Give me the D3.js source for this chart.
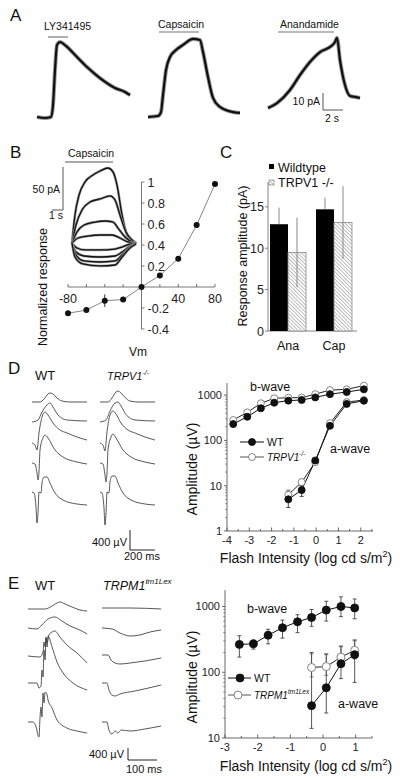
<!DOCTYPE html>
<html><head><meta charset="utf-8">
<script src="https://cdn.jsdelivr.net/npm/d3@7"></script>
<style>body{margin:0;background:#fff}svg{display:block;font-family:"Liberation Sans",Arial,sans-serif}</style>
</head><body><svg id="fig" width="400" height="779"></svg>
<script>
// ---------------- DATA ----------------
// Panel A: agonist-evoked currents, [time (s), current (pA)]
const aLabels = ["LY341495", "Capsaicin", "Anandamide"];
const aTraceLY = [[0,0],[0.8,-0.6],[1.4,0],[1.6,7],[1.8,27.6],[2.0,42.4],[2.3,44.1],[2.9,41.8],[3.8,36.5],[5.0,29.4],[6.3,22.9],[7.8,17.1],[8.8,14.7],[9.3,12.9]];
const aTraceCap = [[0,0],[1.0,0.6],[1.3,2.9],[1.5,12.9],[1.8,27.6],[2.2,35.3],[2.8,39.4],[3.5,42.4],[4.5,45.9],[5.2,45.3],[5.5,38.2],[6.0,23.5],[6.5,11.2],[7.2,5.9],[8.5,2.9],[9.2,2.4]];
const aTraceAna = [[0,5.3],[0.9,8.2],[2.2,15.9],[3.2,24.7],[4.2,32.4],[5.2,38.2],[6.2,41.2],[6.7,44.1],[6.9,46.5],[7.2,33.5],[7.7,18.8],[8.2,12.4],[8.7,11.8],[9.2,11.2]];

// Panel B: capsaicin currents at different holding potentials, [time (s), current (pA)]
const bTraces = [
  [[0,0],[0.27,32.6],[0.64,55.8],[1.18,70.9],[1.91,79.1],[2.55,83.7],[3.27,87.2],[3.73,82.6],[4.09,67.4],[4.55,32.6],[5.0,9.3],[5.45,3.5],[5.82,0]],
  [[0,0],[0.36,20.9],[0.91,38.4],[1.64,47.7],[2.55,51.2],[3.45,54.7],[3.91,50],[4.36,32.6],[4.91,12.8],[5.45,3.5],[5.82,0]],
  [[0,0],[0.45,12.8],[1.09,20.9],[2.09,24.4],[3.0,25.6],[3.73,24.4],[4.18,17.4],[4.82,7.0],[5.45,1.2],[5.82,0]],
  [[0,0],[0.55,5.8],[1.45,8.1],[2.55,9.3],[3.64,9.3],[4.36,5.8],[5.09,1.2],[5.82,0]],
  [[0,0],[0.45,-5.8],[1.18,-8.1],[2.55,-8.1],[3.91,-7.0],[4.55,-4.7],[5.27,-1.2],[5.82,0]],
  [[0,0],[0.36,-10.5],[1.09,-15.1],[2.55,-16.3],[3.91,-15.1],[4.55,-10.5],[5.27,-3.5],[5.82,0]],
  [[0,0],[0.36,-14],[1.09,-20.9],[2.55,-22.1],[3.91,-20.9],[4.55,-14],[5.27,-4.7],[5.82,0]],
  [[0,0],[0.27,-16.3],[1.0,-24.4],[2.55,-26.7],[3.91,-25.6],[4.55,-16.3],[5.27,-5.8],[5.82,-1.2]]
];
// Panel B: I-V relation
const ivVm = [-80,-60,-40,-20,0,20,40,60,80];
const ivResp = [-0.25,-0.22,-0.13,-0.12,0,0.11,0.27,0.59,0.98];
const ivErr = [0.02,0.01,0.06,0.01,0,0.01,0.01,0.02,0.01];
const ivYTicks = [-0.4,-0.2,0.2,0.4,0.6,0.8,1];
const ivXTicks = [-80,-60,-40,-20,0,20,40,60,80];
const ivXLabels = [-80,40,80];

// Panel C: response amplitudes (pA)
const cCats = ["Ana","Cap"];
const cGroups = ["Wildtype","TRPV1 -/-"];
const cWT = [12.9,14.7];
const cWTerr = [2.0,1.4];
const cKO = [9.5,13.1];
const cKOerr = [4.2,4.4];
const cYTicks = [0,5,10,15];

// Panel D: ERG traces, [time (ms), voltage (µV)]
const dTracesWT = [
  [[0,0],[64,0],[96,60],[128,160],[144,180],[168,160],[200,80],[240,20],[304,0],[440,0]],
  [[0,0],[48,40],[80,200],[120,340],[144,380],[168,300],[208,140],[280,40],[440,20]],
  [[0,0],[24,-40],[40,-140],[56,200],[80,520],[104,620],[128,560],[168,400],[224,260],[280,200],[360,120],[440,60]],
  [[0,0],[24,-20],[40,-200],[48,-340],[56,-180],[64,260],[88,500],[104,560],[128,500],[184,260],[248,120],[360,20],[440,-20]],
  [[0,0],[16,-20],[32,-300],[40,-620],[48,-420],[56,0],[72,-20],[80,180],[96,300],[120,300],[144,180],[184,-20],[248,-160],[360,-240],[440,-260]]
];
const dTracesKO = [
  [[0,0],[64,0],[96,80],[128,200],[144,220],[168,180],[200,90],[240,20],[304,0],[440,0]],
  [[0,0],[48,40],[80,220],[120,380],[144,400],[168,320],[208,150],[280,40],[440,20]],
  [[0,0],[24,-40],[40,-160],[56,220],[80,560],[104,640],[128,580],[168,400],[224,260],[280,200],[360,120],[440,60]],
  [[0,0],[24,-20],[40,-240],[48,-380],[56,-200],[64,260],[88,520],[104,580],[128,500],[184,260],[248,120],[360,20],[440,-20]],
  [[0,0],[16,-20],[32,-320],[40,-660],[48,-440],[56,0],[72,-20],[80,200],[96,320],[120,320],[144,180],[184,-20],[248,-160],[360,-240],[440,-260]]
];
// Panel D: intensity-response
const dXb = [-3.72,-3.09,-2.48,-1.88,-1.25,-0.65,-0.04,0.62,1.37,2.14];
const dWTb = [229,333,512,680,755,780,890,1050,1170,1340];
const dKOb = [282,415,660,850,875,880,1050,1290,1340,1620];
const dXa = [-1.25,-0.65,-0.04,0.62,1.37,2.14];
const dWTa = [5,8,36,210,640,750];
const dWTaErr = [[3.3,7.5],[5.8,10],[31,41],[195,228],[610,680],[710,800]];
const dKOa = [6.3,12,33,240,700,780];
const dKOaErr = [[5,8],[10,14],[29,38],[225,258],[670,740],[745,820]];
const dXTicks = [-4,-3,-2,-1,0,1,2];
const dYTicks = [1,10,100,1000];

// Panel E: ERG traces, [time (ms), voltage (µV)]
const eTracesWT = [
  [[0,0],[59,0],[83,100],[100,200],[110,233],[128,167],[152,67],[179,-33],[204,-67]],
  [[0,0],[31,-33],[48,100],[69,300],[93,367],[117,233],[145,67],[179,-67],[204,-200]],
  [[0,0],[41,-33],[52,133],[55,467],[59,300],[62,633],[66,433],[72,700],[83,800],[93,833],[110,633],[134,367],[169,100],[204,-233]],
  [[0,0],[31,0],[38,-167],[45,-100],[48,433],[52,200],[55,1100],[59,767],[62,1500],[66,1200],[69,1567],[83,1200],[100,700],[121,333],[155,0],[204,-233]],
  [[0,0],[17,0],[28,-167],[34,-433],[38,-500],[41,67],[45,500],[48,167],[52,967],[55,633],[59,1000],[66,900],[69,733],[83,467],[100,67],[134,-200],[169,-300],[204,-367]]
];
const eTracesKO = [
  [[0,0],[97,0],[204,-33]],
  [[0,0],[35,-33],[62,-167],[97,-267],[131,-233],[166,-133],[204,-67]],
  [[0,0],[21,0],[31,-167],[45,-267],[62,-300],[97,-267],[148,-200],[204,-100]],
  [[0,0],[17,0],[24,-233],[34,-400],[45,-433],[62,-367],[114,-267],[204,-67]],
  [[0,0],[17,0],[24,-267],[34,-400],[45,-300],[55,-367],[66,-267],[97,-300],[148,-233],[204,-133]]
];
// Panel E: intensity-response
const eXb = [-2.56,-2.13,-1.68,-1.24,-0.78,-0.35,0.10,0.55,0.97];
const eWTb = [265,270,365,475,585,680,880,1000,950];
const eWTbErr = [[170,360],[225,310],[270,450],[330,620],[400,750],[500,900],[600,1200],[700,1400],[650,1300]];
const eXa = [-0.35,0.10,0.55,0.97];
const eWTa = [31,58,135,185];
const eWTaErr = [[14,200],[24,190],[80,250],[70,310]];
const eKOa = [118,122,170,215];
const eKOaErr = [[85,190],[90,185],[120,245],[160,300]];
const eXTicks = [-3,-2,-1,0,1];
const eYTicks = [10,100,1000];

// ---------------- DRAWING ----------------
const svg = d3.select("#fig");
svg.append("rect").attr("width",400).attr("height",779).attr("fill","#fff");
const defs = svg.append("defs");
const pat = defs.append("pattern").attr("id","hatch").attr("patternUnits","userSpaceOnUse")
  .attr("width",2.6).attr("height",2.6).attr("patternTransform","rotate(-45)");
pat.append("rect").attr("width",2.6).attr("height",2.6).attr("fill","#fff");
pat.append("line").attr("x1",0).attr("y1",0).attr("x2",0).attr("y2",2.6).attr("stroke","#8a8a8a").attr("stroke-width",1.1);

function txt(x,y,s,size,o={}){
  const t = svg.append("text").attr("x",x).attr("y",y).attr("font-size",size)
    .attr("fill",o.fill||"#111").attr("text-anchor",o.anchor||"start").text(s);
  if(o.italic) t.attr("font-style","italic");
  if(o.rot) t.attr("transform",`rotate(${o.rot},${x},${y})`);
  return t;
}
function line(x1,y1,x2,y2,col,w){
  svg.append("line").attr("x1",x1).attr("y1",y1).attr("x2",x2).attr("y2",y2)
    .attr("stroke",col||"#222").attr("stroke-width",w||1);
}
function trace(data,xs,ys,col,w,under){
  const gen = d3.line().x(d=>xs(d[0])).y(d=>ys(d[1])).curve(d3.curveMonotoneX);
  if(under) svg.append("path").attr("d",gen(data)).attr("fill","none").attr("stroke",under[0]).attr("stroke-width",under[1]).attr("stroke-linejoin","round");
  svg.append("path").attr("d",gen(data)).attr("fill","none").attr("stroke",col).attr("stroke-width",w).attr("stroke-linejoin","round");
}

// Panel letters
[["A",10,21],["B",10,158],["C",220,158],["D",8,374],["E",8,589]].forEach(p=>txt(p[1],p[2],p[0],17));

// ---- Panel A ----
const aX0 = [37,148,268];
const aTraces = [aTraceLY,aTraceCap,aTraceAna];
const aY = d3.scaleLinear().domain([0,10]).range([117,100]);
aTraces.forEach((tr,i)=>{
  const xs = d3.scaleLinear().domain([0,1]).range([aX0[i],aX0[i]+10]);
  trace(tr,xs,aY,"#111",2.2,["#999",4]);
});
const aBars = [[48,68,37,44,30],[159,199,32,158,28],[278,334,32,280,28]];
aBars.forEach((b,i)=>{ line(b[0],b[2],b[1],b[2],"#777",1.2); txt(b[3],b[4],aLabels[i],10.5); });
{ // scale bar 10 pA / 2 s
  const xs = d3.scaleLinear().domain([0,1]).range([323,333]);
  const y0 = 110, ys = v=> y0-(aY(0)-aY(v));
  line(xs(0),ys(0),xs(0),ys(10),"#555",1);
  line(xs(0),ys(0),xs(2),ys(0),"#555",1);
  txt(320,105,"10 pA",10.5,{anchor:"end"});
  txt(332,122,"2 s",10.5,{anchor:"middle"});
}

// ---- Panel B traces ----
{
  const xs = d3.scaleLinear().domain([0,1]).range([72,83]);
  const ys = d3.scaleLinear().domain([0,50]).range([243,200]);
  bTraces.forEach(tr=>trace(tr,xs,ys,"#111",1.3,["#999",2.6]));
  line(65,162,113,162,"#555",1);
  txt(68,157,"Capsaicin",10.5);
  // scale bar 50 pA / 1 s
  line(63,210,63,210-(ys(0)-ys(50)),"#555",1);
  line(63-(xs(1)-xs(0)),210,63,210,"#555",1);
  txt(60,193,"50 pA",10.5,{anchor:"end"});
  txt(56,219,"1 s",10.5,{anchor:"middle"});
}
// ---- Panel B IV ----
{
  const xs = d3.scaleLinear().domain([-80,80]).range([68,215]);
  const ys = d3.scaleLinear().domain([-0.4,1]).range([329,182]);
  const ax = xs(0), ay = ys(0);
  line(ax,ys(-0.4),ax,ys(1),"#555",0.8);
  ivYTicks.forEach(v=>{ line(ax,ys(v),ax+3,ys(v),"#555",0.8); txt(ax+6,ys(v)+4.5,String(v),12.5,{fill:"#222"}); });
  line(xs(-80),ay,xs(80),ay,"#555",0.8);
  ivXTicks.forEach(v=>line(xs(v),ay,xs(v),ay-3,"#555",0.8));
  ivXLabels.forEach(v=>txt(xs(v),ay+16,String(v),12.5,{anchor:"middle",fill:"#222"}));
  const gen = d3.line().x((d,i)=>xs(ivVm[i])).y(d=>ys(d));
  svg.append("path").attr("d",gen(ivResp)).attr("fill","none").attr("stroke","#666").attr("stroke-width",0.8);
  ivResp.forEach((v,i)=>{
    if(ivErr[i]>0) line(xs(ivVm[i]),ys(v-ivErr[i]),xs(ivVm[i]),ys(v+ivErr[i]),"#333",1);
    svg.append("circle").attr("cx",xs(ivVm[i])).attr("cy",ys(v)).attr("r",3).attr("fill","#111");
  });
  txt(47,287,"Normalized response",12.5,{anchor:"middle",rot:-90});
  txt(138,356,"Vm",12,{anchor:"middle"});
}

// ---- Panel C ----
{
  const ys = d3.scaleLinear().domain([0,18]).range([331,182]);
  const xb = d3.scaleBand().domain(cCats).range([265,357]).paddingInner(0.217).paddingOuter(0.109);
  const xg = d3.scaleBand().domain(cGroups).range([0,xb.bandwidth()]);
  line(268,ys(0),268,ys(18),"#666",0.8);
  line(268,ys(0),357,ys(0),"#666",0.8);
  cYTicks.forEach(v=>{ line(268,ys(v),265,ys(v),"#666",0.8); txt(264,ys(v)+4.5,String(v),12.5,{anchor:"end",fill:"#222"}); });
  cCats.forEach((c,i)=>{
    const x1 = xb(c)+xg("Wildtype"), x2 = xb(c)+xg("TRPV1 -/-"), w = xg.bandwidth();
    svg.append("rect").attr("x",x1).attr("y",ys(cWT[i])).attr("width",w).attr("height",ys(0)-ys(cWT[i])).attr("fill","#000");
    line(x1+w/2,ys(cWT[i]),x1+w/2,ys(cWT[i]+cWTerr[i]),"#888",1);
    svg.append("rect").attr("x",x2).attr("y",ys(cKO[i])).attr("width",w).attr("height",ys(0)-ys(cKO[i])).attr("fill","url(#hatch)").attr("stroke","#888").attr("stroke-width",0.8);
    line(x2+w/2,ys(cKO[i]-cKOerr[i]),x2+w/2,ys(cKO[i]+cKOerr[i]),"#888",1);
    txt(xb(c)+xb.bandwidth()/2,350,c,12.5,{anchor:"middle"});
  });
  svg.append("rect").attr("x",269).attr("y",164).attr("width",5).attr("height",5).attr("fill","#000");
  txt(278,172,cGroups[0],12.5);
  svg.append("rect").attr("x",269).attr("y",180).attr("width",5).attr("height",5).attr("fill","url(#hatch)").attr("stroke","#777").attr("stroke-width",0.6);
  txt(278,187,cGroups[1],12.5);
  txt(247,256,"Response amplitude (pA)",12.5,{anchor:"middle",rot:-90});
}

// ---- ERG traces ----
function ergTraces(traces,x0,bases,msPer,pxPerMs,uvPer,pxPerUv){
  const xs = d3.scaleLinear().domain([0,msPer]).range([x0,x0+pxPerMs]);
  traces.forEach((tr,i)=>{
    const ys = d3.scaleLinear().domain([0,uvPer]).range([bases[i],bases[i]-pxPerUv]);
    trace(tr,xs,ys,"#444",0.9);
  });
}
ergTraces(dTracesWT,32,[402,422,443,463,492],200,25,400,20);
ergTraces(dTracesKO,100,[402,422,443,463,492],200,25,400,20);
txt(35,380,"WT",13);
{ const t = txt(107,380,"TRPV1",11,{italic:true}); t.append("tspan").attr("dy",-5).attr("font-size",7).text("-/-"); }
line(130,550,130,530,"#222",1); line(130,550,155,550,"#222",1);
txt(127,546,"400 µV",11,{anchor:"end"});
txt(142,560,"200 ms",11,{anchor:"middle"});

ergTraces(eTracesWT,28,[609,628,656,683,722],100,29,400,12);
ergTraces(eTracesKO,102,[608,628,655,683,722],100,29,400,12);
txt(35,590,"WT",13);
{ const t = txt(103,590,"TRPM1",12.5,{italic:true}); t.append("tspan").attr("dy",-6).attr("font-size",8).text("tm1Lex"); }
line(128,760,128,748,"#222",1); line(128,760,157,760,"#222",1);
txt(124,758,"400 µV",11,{anchor:"end"});
txt(144,773,"100 ms",11,{anchor:"middle"});

// ---- log plots ----
function logPlot(cfg){
  const xs = d3.scaleLinear().domain(cfg.xDom).range(cfg.xRange);
  const ys = d3.scaleLog().domain(cfg.yDom).range(cfg.yRange);
  const x0 = cfg.xRange[0], yb = cfg.yRange[0];
  line(x0,yb,x0,cfg.yRange[1],"#444",0.8);
  line(x0,yb,cfg.xRange[1],yb,"#444",0.8);
  cfg.xTicks.forEach(v=>{ line(xs(v),yb,xs(v),yb-3.5,"#444",0.8); txt(xs(v),yb+13,String(v),11,{anchor:"middle",fill:"#222"}); });
  cfg.xTicks.forEach(v=>{ if(xs(v+0.5)<=cfg.xRange[1]) line(xs(v+0.5),yb,xs(v+0.5),yb-2,"#444",0.8); });
  cfg.yTicks.forEach(v=>{ line(x0,ys(v),x0-3,ys(v),"#444",0.8); txt(x0-5,ys(v)+4,String(v),11,{anchor:"end",fill:"#222"});
    for(let k=2;k<10;k++){ const m=v*k; if(m<cfg.yDom[1]) line(x0,ys(m),x0-1.8,ys(m),"#444",0.6); } });
  cfg.series.forEach(s=>{
    const gen = d3.line().x((d,i)=>xs(s.x[i])).y(d=>ys(d));
    svg.append("path").attr("d",gen(s.y)).attr("fill","none").attr("stroke",s.lineCol).attr("stroke-width",1);
  });
  cfg.series.forEach(s=>{
    if(s.err) s.err.forEach((e,i)=>{
      const x = xs(s.x[i]);
      line(x,ys(e[0]),x,ys(e[1]),s.errCol,0.9);
      line(x-2,ys(e[0]),x+2,ys(e[0]),s.errCol,0.9);
      line(x-2,ys(e[1]),x+2,ys(e[1]),s.errCol,0.9);
    });
  });
  cfg.series.forEach(s=>{
    s.y.forEach((v,i)=>svg.append("circle").attr("cx",xs(s.x[i])).attr("cy",ys(v)).attr("r",cfg.r)
      .attr("fill",s.filled?"#111":"#fff").attr("stroke",s.filled?"#111":"#777").attr("stroke-width",0.9));
  });
  cfg.legend.forEach(l=>{
    line(l.x1,l.y,l.x2,l.y,l.filled?"#111":"#555",1);
    svg.append("circle").attr("cx",l.cx).attr("cy",l.y).attr("r",cfg.r).attr("fill",l.filled?"#111":"#fff").attr("stroke",l.filled?"#111":"#777").attr("stroke-width",0.9);
    const t = txt(l.tx,l.y+4,l.label,l.size,{italic:!!l.sup});
    if(l.sup) t.append("tspan").attr("dy",-5).attr("font-size",l.supSize).text(l.sup);
  });
  txt(cfg.bwave[0],cfg.bwave[1],"b-wave",12.5);
  txt(cfg.awave[0],cfg.awave[1],"a-wave",12.5);
  txt(197,cfg.ylabY,"Amplitude (µV)",14,{anchor:"middle",rot:-90});
  const xl = txt(306,cfg.xlabY,"Flash Intensity (log cd s/m",14,{anchor:"middle"});
  xl.append("tspan").attr("dy",-6).attr("font-size",9).text("2");
  xl.append("tspan").attr("dy",6).text(")");
}

logPlot({
  xDom:[-4,2.55], xRange:[227,373], yDom:[1,1850], yRange:[531,383],
  xTicks:dXTicks, yTicks:dYTicks, r:3.5,
  series:[
    {x:dXb,y:dKOb,filled:false,lineCol:"#222"},
    {x:dXb,y:dWTb,filled:true,lineCol:"#111"},
    {x:dXa,y:dKOa,filled:false,lineCol:"#222",err:dKOaErr,errCol:"#777"},
    {x:dXa,y:dWTa,filled:true,lineCol:"#111",err:dWTaErr,errCol:"#333"}
  ],
  legend:[
    {x1:240,x2:264,cx:252,y:442,filled:true,tx:267,label:"WT",size:10.5},
    {x1:240,x2:264,cx:252,y:457,filled:false,tx:267,label:"TRPV1",size:10,sup:"-/-",supSize:6.5}
  ],
  bwave:[250,391], awave:[330,453], ylabY:469, xlabY:563
});

logPlot({
  xDom:[-3,1.5], xRange:[225,372], yDom:[10,1780], yRange:[738,590],
  xTicks:eXTicks, yTicks:eYTicks, r:4,
  series:[
    {x:eXb,y:eWTb,filled:true,lineCol:"#111",err:eWTbErr,errCol:"#444"},
    {x:eXa,y:eKOa,filled:false,lineCol:"#222",err:eKOaErr,errCol:"#777"},
    {x:eXa,y:eWTa,filled:true,lineCol:"#111",err:eWTaErr,errCol:"#444"}
  ],
  legend:[
    {x1:228,x2:251,cx:240,y:678,filled:true,tx:254,label:"WT",size:10.5},
    {x1:228,x2:251,cx:238,y:695,filled:false,tx:254,label:"TRPM1",size:10,sup:"tm1Lex",supSize:6.5}
  ],
  bwave:[247,613], awave:[338,708], ylabY:677, xlabY:771
});
</script></body></html>
